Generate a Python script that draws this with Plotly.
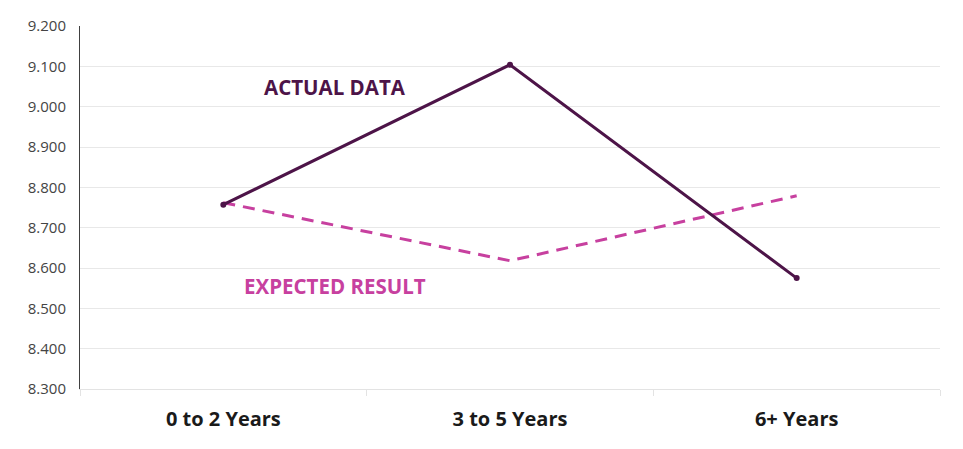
import plotly.graph_objects as go

# Chart data
categories = ["0 to 2 Years", "3 to 5 Years", "6+ Years"]
actual = [8.757, 9.104, 8.575]
expected = [8.762, 8.618, 8.779]
y_ticks = [8.3, 8.4, 8.5, 8.6, 8.7, 8.8, 8.9, 9.0, 9.1, 9.2]

actual_color = "#4D1448"
expected_color = "#C7409F"

fig = go.Figure()

# Expected result (dashed)
fig.add_trace(go.Scatter(
    x=categories, y=expected,
    mode="lines",
    line=dict(color=expected_color, width=3, dash="12px,8px"),
    showlegend=False, hoverinfo="skip"
))

# Actual data (solid with small markers)
fig.add_trace(go.Scatter(
    x=categories, y=actual,
    mode="lines+markers",
    line=dict(color=actual_color, width=3),
    marker=dict(size=6, color=actual_color),
    showlegend=False, hoverinfo="skip"
))

# In-chart labels
fig.add_annotation(x=0.39, y=9.05, xref="x", yref="y", text="<b>ACTUAL DATA</b>",
                   showarrow=False, font=dict(size=20.5, color=actual_color))
fig.add_annotation(x=0.39, y=8.556, xref="x", yref="y", text="<b>EXPECTED RESULT</b>",
                   showarrow=False, font=dict(size=20.5, color=expected_color))

# page body adds an 8px offset, so the figure is made 8px smaller to fit the window
fig.update_layout(
    width=955, height=441,
    margin=dict(l=72, r=23, t=18, b=60),
    plot_bgcolor="white",
    paper_bgcolor="white",
    font=dict(family="Open Sans, Noto Sans, sans-serif"),
    xaxis=dict(
        type="category",
        range=[-0.5, 2.5],
        tickson="boundaries",
        ticks="outside", ticklen=6, tickcolor="#E3E3E3",
        showgrid=False,
        showline=True, linecolor="#E3E3E3", linewidth=1,
        ticklabelstandoff=12,
        tickfont=dict(size=20, color="#1a1a1a", family="Open Sans, sans-serif", weight="bold"),
        zeroline=False,
        automargin=False,
    ),
    yaxis=dict(
        range=[8.3, 9.2],
        tickvals=y_ticks,
        tickformat=".3f",
        showgrid=True, gridcolor="#E8E8E8", gridwidth=1,
        showline=True, linecolor="#404040", linewidth=1,
        ticks="", ticklabelstandoff=10,
        tickfont=dict(size=15, color="#444444"),
        zeroline=False,
        automargin=False,
    ),
)

fig.write_html("out.html")
